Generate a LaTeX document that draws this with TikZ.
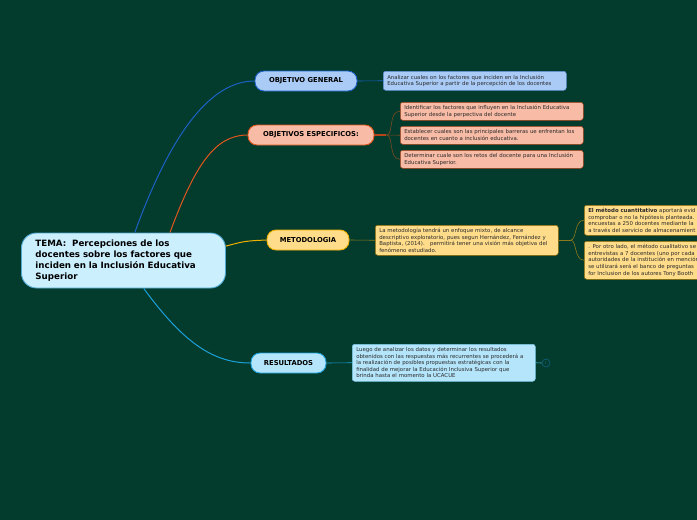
\documentclass[tikz,border=0pt]{standalone}
\usepackage{xcolor}
\usepackage{fontspec}
\setmainfont{DejaVu Sans}
\usepackage{tikz}
\usetikzlibrary{positioning, calc}

\definecolor{bgdark}{HTML}{033B2D}
\definecolor{txtdark}{HTML}{2A2A2A}
\definecolor{temafill}{HTML}{CCEFFE}
\definecolor{temaline}{HTML}{4FA9D2}
\definecolor{ogfill}{HTML}{A9CBF6}
\definecolor{ogline}{HTML}{1C62C6}
\definecolor{oefill}{HTML}{F8BBA6}
\definecolor{oeline}{HTML}{E2561E}
\definecolor{oesub}{HTML}{7A4A22}
\definecolor{metfill}{HTML}{FFDC8A}
\definecolor{metline}{HTML}{F0B000}
\definecolor{metsub}{HTML}{8C7A1C}
\definecolor{resfill}{HTML}{B5E5FA}
\definecolor{resline}{HTML}{1CA2DB}

\tikzset{
  topic/.style={draw, line width=0.9pt, rounded corners=9pt, minimum height=20pt,
    font=\fontsize{6.8}{8}\selectfont\bfseries, text=black},
  detail/.style={draw, line width=0.5pt, rounded corners=2.5pt, anchor=north west,
    align=left, inner xsep=4pt, inner ysep=2pt, font=\fontsize{5.4}{6.6}\selectfont, text=txtdark},
}

\begin{document}
\begin{tikzpicture}[x=1pt, y=-1pt]
				\fill[bgdark] (0,0) rectangle (697,520);
				\useasboundingbox (0,0) rectangle (697,520);
				\clip (0,0) rectangle (697,520);

				\node[draw=temaline, fill=temafill, line width=0.9pt, rounded corners=15pt, anchor=west,
					minimum height=55pt, text width=176pt, inner xsep=14pt, align=left,
					font=\fontsize{8.7}{11}\selectfont\bfseries, text=black] (tema) at (21,260.5)
					{TEMA:\ \ Percepciones de los\\ docentes sobre los factores que\\ inciden en la Inclusión Educativa\\ Superior};

				\node[topic, draw=ogline, fill=ogfill, minimum width=102pt] (og) at (306,81) {OBJETIVO GENERAL};
				\node[topic, draw=oeline, fill=oefill, minimum width=126pt] (oe) at (311,135) {OBJETIVOS ESPECIFICOS:};
				\node[topic, draw=metline, fill=metfill, minimum width=82pt] (met) at (308,240) {METODOLOGIA};
				\node[topic, draw=resline, fill=resfill, minimum width=75pt] (res) at (288.5,363) {RESULTADOS};

				\draw[ogline, line width=1pt] (tema.68) .. controls (172,130) and (212,81) .. (og.west);
				\draw[oeline, line width=1pt] (tema.31) .. controls (195,165) and (215,135) .. (oe.west);
				\draw[metline, line width=1pt] (tema.8) .. controls (245,241) .. (met.west);
				\draw[resline, line width=1pt] (tema.-54) .. controls (185,345) and (215,363) .. (res.west);

				\node[detail, draw=ogline!70!white, fill=ogfill, text width=175pt, minimum height=19pt] (ogd) at (383,71)
					{Analizar cuales on los factores que inciden en la Inclusión\\ Educativa Superior a partir de la percepción de los docentes};
				\draw[ogline, line width=0.6pt] (og.east) -- (ogd.west);

				\node[detail, draw=oeline!70!black, fill=oefill, text width=175pt, minimum height=18pt] (oe1) at (400,102)
					{Identificar los factores que influyen en la Inclusión Educativa\\ Superior desde la perpectiva del docente};
				\node[detail, draw=oeline!70!black, fill=oefill, text width=175pt, minimum height=18pt] (oe2) at (400,126)
					{Establecer cuales son las principales barreras ue enfrentan los\\ docentes en cuanto a inclusión educativa.};
				\node[detail, draw=oeline!70!black, fill=oefill, text width=175pt, minimum height=18pt] (oe3) at (400,150)
					{Determinar cuale son los retos del docente para una Inclusión\\ Educativa Superior.};
				\draw[oeline!80!black, line width=1.6pt] (oe.east) -- ++(12,0) coordinate (oej);
				\draw[oesub, line width=0.6pt] (oej) .. controls (394,135) and (388,111) .. (oe1.west);
				\draw[oesub, line width=0.6pt] (oej) -- (oe2.west);
				\draw[oesub, line width=0.6pt] (oej) .. controls (394,135) and (388,159) .. (oe3.west);

				\node[detail, draw=metline!60!black, fill=metfill, text width=175pt, minimum height=30pt] (metd) at (375,225)
					{La metodología tendrá un enfoque mixto, de alcance\\ descriptivo exploratorio, pues segun Hernández, Fernández y\\ Baptista, (2014).\ \ \ permitirá tener una visión más objetiva del\\ fenómeno estudiado.};
				\draw[metsub, line width=0.6pt] (met.east) -- (metd.west);

				\node[detail, draw=metline!60!black, fill=metfill, text width=140pt, minimum height=30pt] (met1) at (584,205)
					{\textbf{El método cuantitativo} aportará evid\\ comprobar o no la hipótesis planteada.\\ encuestas a 250 docentes mediante la\\ a través del servicio de almacenamient};
				\node[detail, draw=metline!60!black, fill=metfill, text width=140pt, minimum height=38pt] (met2) at (584,241)
					{. Por otro lado, el método cualitativo se\\ entrevistas a 7 docentes (uno por cada\\ autoridades de la institución en mención\\ se utilizará será el banco de preguntas\\ for Inclusion de los autores Tony Booth};
				\draw[metsub, line width=1.2pt] (metd.east) -- ++(12,0) coordinate (metj);
				\draw[metsub, line width=0.6pt] (metj) .. controls (577,240) and (574,220) .. (met1.west);
				\draw[metsub, line width=0.6pt] (metj) .. controls (577,240) and (574,260) .. (met2.west);

				\node[detail, draw=resline!60!white, fill=resfill, text width=175pt, minimum height=37pt] (resd) at (352,344)
					{Luego de analizar los datos y determinar los resultados\\ obtenidos con las respuestas más recurrentes se procederá a\\ la realización de posibles propuestas estratégicas con la\\ finalidad de mejorar la Educación Inclusiva Superior que\\ brinda hasta el momento la UCACUE};
				\draw[resline, line width=0.6pt] (res.east) -- (resd.west);
				\node[circle, draw=resline!60!black, line width=0.6pt, minimum size=8pt, inner sep=0pt,
					font=\fontsize{4}{4}\selectfont, text=resline!60!black] (rescnt) at (546,363) {1};
				\draw[resline!80!white, line width=0.6pt] (resd.east) -- (rescnt.west);
			\end{tikzpicture}
\end{document}
